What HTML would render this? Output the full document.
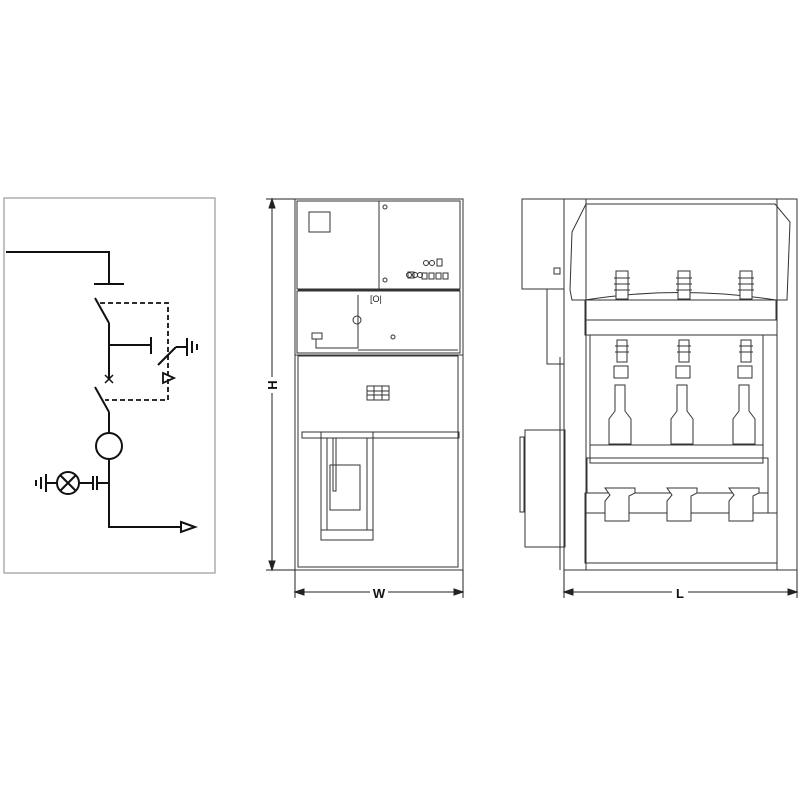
<!DOCTYPE html>
<html><head><meta charset="utf-8"><style>body{margin:0;background:#fff}svg{display:block}</style></head><body>
<svg width="800" height="800" viewBox="0 0 800 800" xmlns="http://www.w3.org/2000/svg" font-family="Liberation Sans, sans-serif">
<rect width="800" height="800" fill="#fff"/>
<rect x="4" y="198" width="211" height="375" fill="none" stroke="#999" stroke-width="1.2"/>
<g stroke="#111" stroke-width="2" fill="none">
<polyline points="6,252 109,252 109,284"/>
<line x1="94" y1="284" x2="124" y2="284"/>
<line x1="95" y1="298" x2="109" y2="323"/>
<line x1="109" y1="323" x2="109" y2="380"/>
<line x1="109" y1="345" x2="151" y2="345"/>
<line x1="151" y1="337" x2="151" y2="354"/>
<line x1="105" y1="375" x2="113" y2="383" stroke-width="1.5"/>
<line x1="113" y1="375" x2="105" y2="383" stroke-width="1.5"/>
<line x1="95" y1="387" x2="109" y2="412"/>
<line x1="109" y1="412" x2="109" y2="433"/>
<circle cx="109" cy="446" r="13"/>
<polyline points="109,459 109,527 182,527"/>
<polygon points="181,522 195,527 181,532" fill="#fff"/>
<line x1="109" y1="483" x2="97" y2="483"/>
<line x1="97" y1="476" x2="97" y2="490"/>
<line x1="93" y1="476" x2="93" y2="490"/>
<line x1="93" y1="483" x2="79" y2="483"/>
<circle cx="68" cy="483" r="11"/>
<line x1="60" y1="475" x2="76" y2="491"/>
<line x1="76" y1="475" x2="60" y2="491"/>
<line x1="57" y1="483" x2="46" y2="483"/>
<line x1="46" y1="474" x2="46" y2="492"/>
<line x1="41" y1="477" x2="41" y2="489"/>
<line x1="36" y1="480" x2="36" y2="486"/>
<line x1="158" y1="365" x2="176" y2="347"/>
<line x1="176" y1="347" x2="187" y2="347"/>
<line x1="187" y1="338" x2="187" y2="356"/>
<line x1="192" y1="341" x2="192" y2="353"/>
<line x1="197" y1="344" x2="197" y2="350"/>
<polygon points="163,373 174,378 163,383" fill="#fff" stroke-width="1.8"/>
<polyline points="100,303 168,303 168,400 105,400" stroke-dasharray="5,3" stroke-width="1.8"/>
</g>
<g stroke="#333" stroke-width="1" fill="none">
<rect x="295" y="199" width="168" height="371"/>
<rect x="297" y="201" width="163" height="88"/>
<line x1="379" y1="201" x2="379" y2="289"/>
<rect x="309" y="212" width="21" height="20"/>
<rect x="297" y="291" width="163" height="62"/>
<rect x="298" y="356" width="160" height="211"/>
<line x1="295" y1="355" x2="463" y2="355"/>
<line x1="298" y1="290" x2="460" y2="290"/>
<rect x="302" y="432" width="157" height="6"/>
<rect x="321" y="432" width="52" height="108"/>
<rect x="327" y="438" width="40" height="92"/>
<rect x="330" y="465" width="30" height="45"/>
<rect x="333" y="438" width="3" height="53"/>
<rect x="321" y="530" width="52" height="10"/>
<rect x="367" y="386" width="22" height="14"/>
<line x1="367" y1="391" x2="389" y2="391"/><line x1="367" y1="395" x2="389" y2="395"/>
<line x1="374" y1="386" x2="374" y2="400"/><line x1="382" y1="386" x2="382" y2="400"/>
<rect x="312" y="333" width="10" height="6"/>
<polyline points="316,339 316,348 358,348 358,295"/>
<polyline points="358,350 458,350"/>
<circle cx="357" cy="320" r="4"/>
<circle cx="393" cy="337" r="2"/>
<circle cx="409" cy="275" r="2.5"/><circle cx="415" cy="275" r="2.5"/><circle cx="420" cy="275" r="2.5"/>
<rect x="408" y="272" width="6" height="6"/>
<rect x="422" y="273" width="5" height="6"/><rect x="429" y="273" width="5" height="6"/><rect x="436" y="273" width="5" height="6"/><rect x="443" y="273" width="5" height="6"/>
<circle cx="426" cy="263" r="2.5"/><circle cx="432" cy="263" r="2.5"/><rect x="437" y="259" width="5" height="7"/>
<circle cx="385" cy="207" r="2"/><circle cx="385" cy="280" r="2"/>
</g>
<text x="370" y="302" font-size="9" fill="#222">[O|</text>
<g stroke="#222" stroke-width="1" fill="#222">
<line x1="272" y1="199" x2="272" y2="570"/>
<line x1="266" y1="199" x2="295" y2="199"/>
<line x1="266" y1="570" x2="295" y2="570"/>
<polygon points="272,199 269,208 275,208"/><polygon points="272,570 269,561 275,561"/>
<line x1="295" y1="570" x2="295" y2="598"/><line x1="463" y1="570" x2="463" y2="598"/>
<line x1="295" y1="592" x2="463" y2="592"/>
<polygon points="295,592 304,589 304,595"/><polygon points="463,592 454,589 454,595"/>
<line x1="564" y1="570" x2="564" y2="598"/><line x1="797" y1="570" x2="797" y2="598"/>
<line x1="564" y1="592" x2="797" y2="592"/>
<polygon points="564,592 573,589 573,595"/><polygon points="797,592 788,589 788,595"/>
</g>
<rect x="370" y="585" width="18" height="14" fill="#fff"/>
<rect x="266" y="377" width="12" height="16" fill="#fff"/>
<rect x="672" y="585" width="16" height="14" fill="#fff"/>
<text x="379" y="598" font-size="13" font-weight="bold" text-anchor="middle" fill="#111">W</text>
<text x="272" y="385" font-size="13" font-weight="bold" text-anchor="middle" fill="#111" transform="rotate(-90 272 385)" dy="5">H</text>
<text x="680" y="598" font-size="13" font-weight="bold" text-anchor="middle" fill="#111">L</text>
<g stroke="#333" stroke-width="1" fill="none">
<rect x="564" y="199" width="233" height="371"/>
<line x1="586" y1="199" x2="586" y2="570"/>
<line x1="777" y1="199" x2="777" y2="570"/>
<rect x="522" y="199" width="42" height="90"/>
<rect x="547" y="289" width="17" height="75"/>
<rect x="525" y="430" width="40" height="117"/>
<rect x="520" y="437" width="4" height="75"/>
<line x1="560" y1="357" x2="560" y2="570"/>
<rect x="554" y="268" width="6" height="6"/>
<polygon points="586,204 775,204 790,222 787,300 572,300 570,290 572,232"/>
<rect x="585" y="320" width="192" height="15"/>
<path d="M585 300 Q680 285 776 300 L776 320 L585 320Z"/>
<rect x="590" y="335" width="173" height="110"/>
<rect x="590" y="445" width="173" height="18"/>
<rect x="587" y="458" width="181" height="35"/>
<rect x="585" y="493" width="183" height="20"/>
<rect x="585" y="513" width="192" height="50"/>
</g>
<g stroke="#333" stroke-width="1" fill="#fff">
<g id="ph">
<path d="M616 271 h12 v28 h-12z"/>
<line x1="614" y1="278" x2="630" y2="278"/><line x1="614" y1="284" x2="630" y2="284"/><line x1="614" y1="290" x2="630" y2="290"/>
<path d="M617 340 h10 v22 h-10z"/>
<line x1="615" y1="346" x2="629" y2="346"/><line x1="615" y1="352" x2="629" y2="352"/>
<rect x="614" y="366" width="14" height="12"/>
<path d="M615 385 h10 v26 l6 8 v25 h-22 v-25 l6 -8z"/>
<path d="M605 488 h30 v5 l-6 3 v25 h-24 v-20 l5 -6z"/>
</g>
<use href="#ph" x="62"/>
<use href="#ph" x="124"/>
</g>
</svg>
</body></html>
